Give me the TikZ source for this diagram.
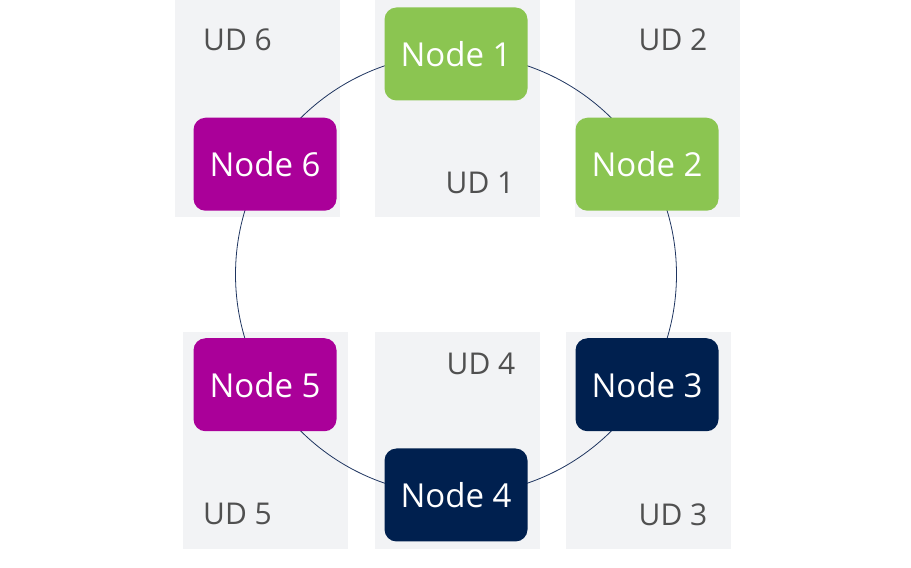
\documentclass[tikz,border=0pt]{standalone}
\usepackage{fontspec}
\setmainfont{Open Sans}
\usepackage{tikz}
\usepackage{xcolor}
\usetikzlibrary{positioning, backgrounds}

\definecolor{udgray}{HTML}{F2F3F5}
\definecolor{udtext}{HTML}{505050}
\definecolor{nodegreen}{HTML}{8BC551}
\definecolor{nodepurple}{HTML}{AA0099}
\definecolor{nodenavy}{HTML}{00204F}
\definecolor{ringline}{HTML}{1F3560}

\begin{document}
\begin{tikzpicture}[
    x=1pt, y=1pt,
    every node/.style={align=center},
    udbox/.style={rectangle, minimum width=165pt, minimum height=217pt, fill=udgray, inner sep=0pt},
    udlabel/.style={text=udtext, font=\fontsize{30}{36}\selectfont, inner sep=0pt},
    ringnode/.style={rectangle, rounded corners=12pt, minimum width=143pt, minimum height=93pt, text=white, font=\fontsize{33}{40}\selectfont, inner sep=0pt},
    greennode/.style={ringnode, fill=nodegreen},
    purplenode/.style={ringnode, fill=nodepurple},
    navynode/.style={ringnode, fill=nodenavy},
    ring/.style={draw=ringline, line width=0.8pt}
]
\useasboundingbox (0,0) rectangle (911,568);

% Update domains
\node (ud6box) [udbox] at (257.5,459.5) {};
\node (ud1box) [udbox] at (457.5,459.5) {};
\node (ud2box) [udbox] at (657,459.5) {};
\node (ud5box) [udbox] at (265.5,127.5) {};
\node (ud4box) [udbox] at (457.5,127.5) {};
\node (ud3box) [udbox] at (648.5,127.5) {};

\node (ud6) [udlabel] at (237.5,528) {UD 6};
\node (ud1) [udlabel] at (480,385) {UD 1};
\node (ud2) [udlabel] at (673,528) {UD 2};
\node (ud5) [udlabel] at (237.5,54) {UD 5};
\node (ud4) [udlabel] at (481,204) {UD 4};
\node (ud3) [udlabel] at (673,53) {UD 3};

% Ring
\coordinate (center) at (456,293.5);
\draw [ring] (center) circle (220.5);

% Nodes
\node (node1) [greennode] at (456,514) {Node 1};
\node (node2) [greennode] at (647,403.75) {Node 2};
\node (node3) [navynode] at (647,183.25) {Node 3};
\node (node4) [navynode] at (456,73) {Node 4};
\node (node5) [purplenode] at (265,183.25) {Node 5};
\node (node6) [purplenode] at (265,403.75) {Node 6};

\end{tikzpicture}
\end{document}
